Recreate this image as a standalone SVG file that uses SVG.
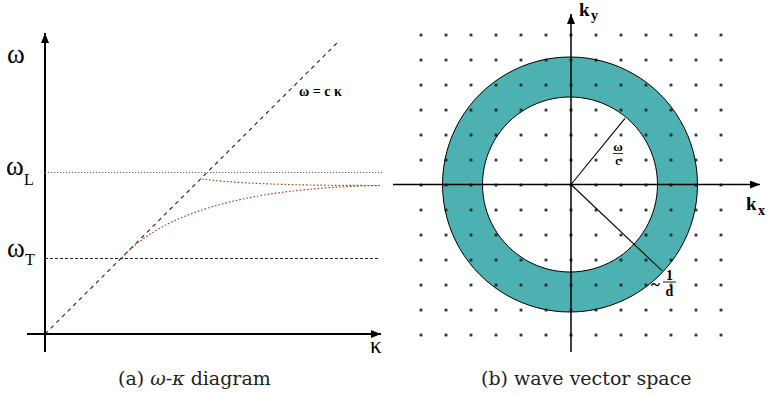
<svg xmlns="http://www.w3.org/2000/svg" width="770" height="394" viewBox="0 0 770 394">
<style>
.lbl{font-family:"Liberation Serif",serif;fill:#000}
.b{font-weight:bold}
.cap{font-family:"DejaVu Serif","Liberation Serif",serif;font-size:19px;fill:#222}
.axis{stroke:#000;fill:none}
.curve{stroke:#a8461a;stroke-width:1.2;fill:none;stroke-dasharray:1.6 2}
</style>
<defs>
<marker id="arr" markerUnits="userSpaceOnUse" markerWidth="10" markerHeight="8" refX="10" refY="4" orient="auto">
<path d="M0,0 L10,4 L0,8 z" fill="#000"/>
</marker>
<pattern id="dots" patternUnits="userSpaceOnUse" x="408.5" y="22.5" width="25" height="25">
<circle cx="12.5" cy="12.5" r="1.5" fill="#111"/>
</pattern>
</defs>

<g id="panel-a">
<g id="connectors-a">
<line class="axis" x1="45" y1="352" x2="45" y2="33" stroke-width="2" marker-end="url(#arr)"/>
<line class="axis" x1="27" y1="334" x2="381" y2="334" stroke-width="2" marker-end="url(#arr)"/>
<line x1="45" y1="334" x2="338" y2="42" stroke="#222" stroke-width="1.1" stroke-dasharray="4 4"/>
<line x1="45" y1="172.5" x2="383" y2="172.5" stroke="#666" stroke-width="1" stroke-dasharray="1.3 1.7"/>
<line x1="45" y1="258.5" x2="380" y2="258.5" stroke="#222" stroke-width="1" stroke-dasharray="3 2"/>
<path class="curve" d="M122,258 C160,215 240,188 380,185.5"/>
<path class="curve" d="M202,179 C230,182.5 270,185.5 380,185.5"/>
</g>
<text class="lbl" x="7" y="63" font-size="27">ω</text>
<text class="lbl" x="6" y="175" font-size="27">ω</text>
<text class="lbl" x="24" y="185" font-size="16">L</text>
<text class="lbl" x="7" y="257" font-size="27">ω</text>
<text class="lbl" x="25" y="265" font-size="16">T</text>
<text class="lbl" x="370" y="353" font-size="23">κ</text>
<text class="lbl b" x="299" y="96" font-size="14">ω = c κ</text>
</g>

<g id="panel-b">
<path id="annulus" d="M570,57 a127.5,127.5 0 1,0 0.01,0 z M570,97 a87.5,87.5 0 1,1 -0.01,0 z" fill="#4db0b1" fill-rule="evenodd" stroke="#000" stroke-width="1"/>
<rect id="lattice" x="408.5" y="22.5" width="325" height="325" fill="url(#dots)"/>
<g id="connectors-b">
<line class="axis" x1="393" y1="184.5" x2="760" y2="184.5" stroke-width="1.5" marker-end="url(#arr)"/>
<line class="axis" x1="571" y1="352" x2="571" y2="14" stroke-width="1.5" marker-end="url(#arr)"/>
<line x1="571" y1="184.5" x2="625" y2="118.3" stroke="#000" stroke-width="1.1"/>
<line x1="571" y1="184.5" x2="662" y2="270.7" stroke="#000" stroke-width="1.1"/>
</g>
<text class="lbl b" x="746" y="210" font-size="19">k</text>
<text class="lbl b" x="758" y="215" font-size="14">x</text>
<text class="lbl b" x="579" y="16" font-size="19">k</text>
<text class="lbl b" x="591" y="20" font-size="14">y</text>
<g id="label-omega-c">
<text class="lbl b" x="618" y="151" font-size="13" text-anchor="middle">ω</text>
<line x1="613" y1="153.5" x2="623" y2="153.5" stroke="#000" stroke-width="0.8"/>
<text class="lbl b" x="618" y="165" font-size="12" text-anchor="middle">c</text>
</g>
<g id="label-one-d">
<text class="lbl b" x="651" y="290" font-size="17">~</text>
<text class="lbl b" x="669.5" y="280" font-size="14" text-anchor="middle">1</text>
<line x1="663" y1="282" x2="676" y2="282" stroke="#000" stroke-width="0.9"/>
<text class="lbl b" x="669.5" y="296" font-size="14" text-anchor="middle">d</text>
</g>
</g>

<g id="captions">
<text class="cap" x="118" y="385">(a) <tspan font-style="italic">ω</tspan>-<tspan font-style="italic">κ</tspan> diagram</text>
<text class="cap" x="481" y="385">(b) wave vector space</text>
</g>
</svg>
